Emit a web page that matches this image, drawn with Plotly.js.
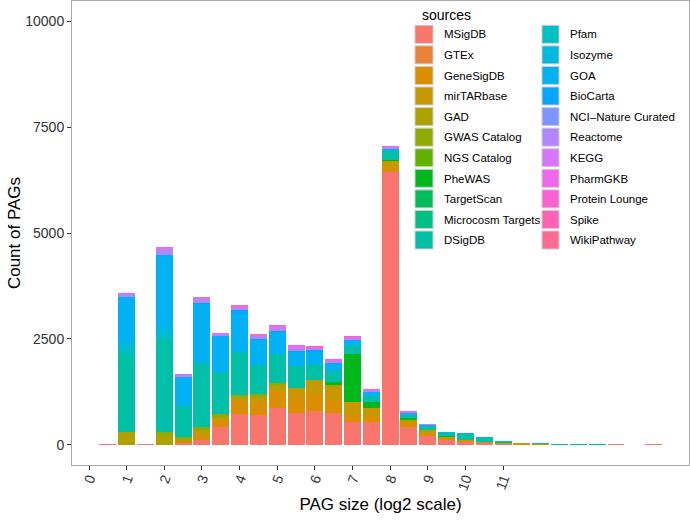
<!DOCTYPE html>
<html>
<head>
<meta charset="utf-8">
<script src="https://cdn.plot.ly/plotly-3.0.1.min.js"></script>
<style>html,body{margin:0;padding:0;background:#fff;}#chart{width:690px;height:521px;}</style>
</head>
<body>
<div id="chart"></div>
<script>
// bin centres on the log2 axis
const bins = [0.5,1,1.5,2,2.5,3,3.5,4,4.5,5,5.5,6,6.5,7,7.5,8,8.5,9,9.5,10,10.5,11,11.5,12,12.5,13,13.5,14,14.5,15];
const sources = ["MSigDB","GTEx","GeneSigDB","mirTARbase","GAD","GWAS Catalog","NGS Catalog","PheWAS","TargetScan","Microcosm Targets","DSigDB","Pfam","Isozyme","GOA","BioCarta","NCI\u2013Nature Curated","Reactome","KEGG","PharmGKB","Protein Lounge","Spike","WikiPathway"];
const tickLabels = ["0","1","2","3","4","5","6","7","8","9","10","11"];
const tickValues = [0,1,2,3,4,5,6,7,8,9,10,11];
const yTickValues = [0,2500,5000,7500,10000];
const yTickLabels = ["0","2500","5000","7500","10000"];

const MSigDB        = [12,0,12,0,40,125,425,730,710,880,765,810,750,550,550,6440,420,210,115,60,40,15,10,5,5,0,0,12,0,12];
const GTEx          = [0,0,0,0,0,0,0,0,0,0,0,0,0,0,0,0,0,0,0,0,0,0,0,0,0,0,0,0,0,0];
const GeneSigDB     = [0,0,0,0,40,95,155,300,300,380,375,390,300,180,140,100,80,60,40,30,15,15,20,15,0,0,0,0,0,0];
const mirTARbase    = [0,0,0,0,20,60,30,50,85,110,170,310,330,290,180,150,100,80,45,25,15,10,15,0,0,0,0,0,0,0];
const GAD           = [0,295,0,215,50,80,60,50,50,50,35,20,25,0,0,0,0,0,0,0,0,0,0,0,0,0,0,0,0,0];
const GWASCatalog   = [0,0,0,90,40,75,70,50,65,50,0,0,0,0,0,0,0,0,0,0,0,0,0,0,0,0,0,0,0,0];
const NGSCatalog    = [0,0,0,0,0,0,0,0,0,0,0,0,0,0,0,0,0,0,0,0,0,0,0,0,0,0,0,0,0,0];
const PheWAS        = [0,0,0,0,0,0,0,0,0,0,0,0,80,1125,135,40,40,15,10,10,10,5,0,0,0,0,0,0,0,0];
const TargetScan    = [0,0,0,0,0,0,0,0,0,0,0,0,0,0,0,0,0,0,0,0,0,0,0,0,0,0,0,0,0,0];
const Microcosm     = [0,0,0,0,0,0,0,0,0,0,0,0,0,0,0,0,0,0,0,0,0,0,0,0,0,0,0,0,0,0];
const DSigDB        = [0,1850,0,2160,720,1490,980,1000,670,680,510,375,250,195,155,200,60,80,70,140,90,50,0,20,25,12,12,0,0,0];
const Pfam          = [0,165,0,125,20,15,0,20,0,0,0,0,0,0,0,0,0,0,0,0,0,0,0,0,0,0,0,0,0,0];
const Isozyme       = [0,110,0,155,0,0,0,0,0,0,0,0,0,0,0,0,0,0,0,0,0,0,0,0,0,0,0,0,0,0];
const GOA           = [0,1060,0,1745,670,1390,840,920,590,520,350,290,180,140,95,60,50,25,15,15,10,5,0,0,0,0,0,0,0,0];
const BioCarta      = [0,0,0,0,0,15,0,60,40,30,20,40,20,0,0,0,0,0,0,0,0,0,0,0,0,0,0,0,0,0];
const NCI           = [0,0,0,0,0,0,0,0,0,0,0,0,0,0,0,0,0,0,0,0,0,0,0,0,0,0,0,0,0,0];
const Reactome      = [0,90,0,140,40,110,45,50,50,40,45,30,25,20,20,20,15,10,5,0,0,0,0,0,0,0,0,0,0,0];
const KEGG          = [0,0,0,20,15,10,15,20,20,40,35,25,20,25,15,15,10,10,5,0,0,0,0,0,0,0,0,0,0,0];
const PharmGKB      = [0,10,0,15,10,0,15,20,15,20,25,15,15,20,15,15,10,10,5,0,0,0,0,0,0,0,0,0,0,0];
const ProteinLounge = [0,0,0,0,0,0,0,15,0,15,20,15,15,20,10,15,10,5,5,5,0,0,0,0,0,0,0,0,0,0];
const Spike         = [0,0,0,0,0,0,0,0,0,0,10,0,0,0,0,0,0,0,0,0,0,0,0,0,0,0,0,0,0,0];
const WikiPathway   = [0,0,0,0,0,30,0,10,20,20,10,10,10,10,0,0,0,0,0,0,0,0,0,0,0,0,0,0,0,0];

const seriesValues = [MSigDB,GTEx,GeneSigDB,mirTARbase,GAD,GWASCatalog,NGSCatalog,PheWAS,TargetScan,Microcosm,DSigDB,Pfam,Isozyme,GOA,BioCarta,NCI,Reactome,KEGG,PharmGKB,ProteinLounge,Spike,WikiPathway];

// ggplot2-style default hue palette (HCL, c=100, l=65)
function hcl(h, c, l) {
  const Xn = 95.047, Yn = 100, Zn = 108.883;
  const rad = h * Math.PI / 180;
  const U = c * Math.cos(rad), V = c * Math.sin(rad);
  const Y = l > 8 ? Yn * Math.pow((l + 16) / 116, 3) : Yn * l / 903.3;
  const den = Xn + 15 * Yn + 3 * Zn;
  const un = 4 * Xn / den, vn = 9 * Yn / den;
  const u = U / (13 * l) + un, v = V / (13 * l) + vn;
  const X = 9 * Y * u / (4 * v);
  const Z = -X / 3 - 5 * Y + 3 * Y / v;
  const x = X / 100, y = Y / 100, z = Z / 100;
  const lin = [3.240479*x - 1.537150*y - 0.498535*z,
              -0.969256*x + 1.875992*y + 0.041556*z,
               0.055648*x - 0.204043*y + 1.057311*z];
  const out = lin.map(t => {
    let g = t <= 0.0031308 ? 12.92 * t : 1.055 * Math.pow(t, 1 / 2.4) - 0.055;
    g = Math.max(0, Math.min(1, g));
    return Math.round(g * 255);
  });
  return 'rgb(' + out.join(',') + ')';
}
const n = sources.length;
const palette = sources.map((s, i) => hcl(15 + i * 360 / n, 100, 65));

const FONT = 'Liberation Sans, Arial, Helvetica, sans-serif';
const half = Math.ceil(n / 2);

const traces = sources.map((name, i) => ({
  type: 'bar',
  name: name,
  x: bins,
  y: seriesValues[i],
  width: 0.45,
  marker: {color: palette[i], line: {width: 0}},
  legendgroup: 'g' + i,
  legend: i < half ? 'legend' : 'legend2',
  hoverinfo: 'name+y'
}));

// plot area in pixels: x 72..689, y 1..465
const L = 72, R = 689, T = 1, B = 465;
const pxX = px => (px - L) / (R - L);
const pxY = py => 1 - (py - T) / (B - T);

// legend geometry (pixels)
const legLeft = [404, 530];      // left edge of each legend column
const firstRow = 34.3, rowStep = 20.57, keySize = 18;

// key boxes drawn behind the legend swatches (ggplot-style keys)
const keyShapes = sources.map((s, i) => {
  const col = i < half ? 0 : 1;
  const row = i < half ? i : i - half;
  const cx = legLeft[col] + 20, cy = firstRow + row * rowStep;
  return {
    type: 'rect', xref: 'paper', yref: 'paper', layer: 'above',
    x0: pxX(cx - keySize / 2 + (col ? 1 : 0)), x1: pxX(cx + keySize / 2),
    y0: pxY(cy - keySize / 2), y1: pxY(cy + keySize / 2),
    fillcolor: palette[i], line: {color: '#cccccc', width: 1}
  };
});

const layout = {
  width: 690, height: 521,
  margin: {l: L, r: 690 - R, t: T, b: 521 - B},
  paper_bgcolor: '#ffffff',
  plot_bgcolor: '#ffffff',
  barmode: 'stack',
  bargap: 0,
  font: {family: FONT, color: '#000'},
  xaxis: {
    range: [-0.452, 15.94],
    tickmode: 'array', tickvals: tickValues, ticktext: tickLabels,
    tickangle: -70,
    ticks: 'outside', ticklen: 4, tickwidth: 1, tickcolor: '#333',
    ticklabelstandoff: -5,
    tickfont: {family: FONT, size: 14, color: '#333'},
    showline: true, linecolor: '#aaaaaa', linewidth: 1, mirror: true,
    showgrid: false, zeroline: false,
    title: {text: 'PAG size (log2 scale)', font: {family: FONT, size: 17, color: '#000'}, standoff: 6}
  },
  yaxis: {
    range: [-472, 10472],
    tickmode: 'array', tickvals: yTickValues, ticktext: yTickLabels,
    ticks: 'outside', ticklen: 4, tickwidth: 1, tickcolor: '#333',
    tickfont: {family: FONT, size: 14, color: '#333'},
    showline: true, linecolor: '#aaaaaa', linewidth: 1, mirror: true,
    showgrid: false, zeroline: false,
    automargin: true,
    title: {text: 'Count of PAGs', font: {family: FONT, size: 17, color: '#000'}, standoff: 0}
  },
  shapes: keyShapes,
  annotations: [{
    text: 'sources', xref: 'paper', yref: 'paper',
    x: pxX(420), y: pxY(15), xanchor: 'left', yanchor: 'middle',
    showarrow: false, font: {family: FONT, size: 14, color: '#000'}
  }],
  legend: {
    x: pxX(legLeft[0]), y: pxY(19.3), xanchor: 'left', yanchor: 'top',
    font: {family: FONT, size: 11.5, color: '#000'},
    bgcolor: 'rgba(255,255,255,0)', borderwidth: 0,
    traceorder: 'grouped', tracegroupgap: 1.6, itemwidth: 30
  },
  legend2: {
    x: pxX(legLeft[1]), y: pxY(19.3), xanchor: 'left', yanchor: 'top',
    font: {family: FONT, size: 11.5, color: '#000'},
    bgcolor: 'rgba(255,255,255,0)', borderwidth: 0,
    traceorder: 'grouped', tracegroupgap: 1.6, itemwidth: 30
  }
};

Plotly.newPlot('chart', traces, layout, {displayModeBar: false, staticPlot: true});
</script>
</body>
</html>
